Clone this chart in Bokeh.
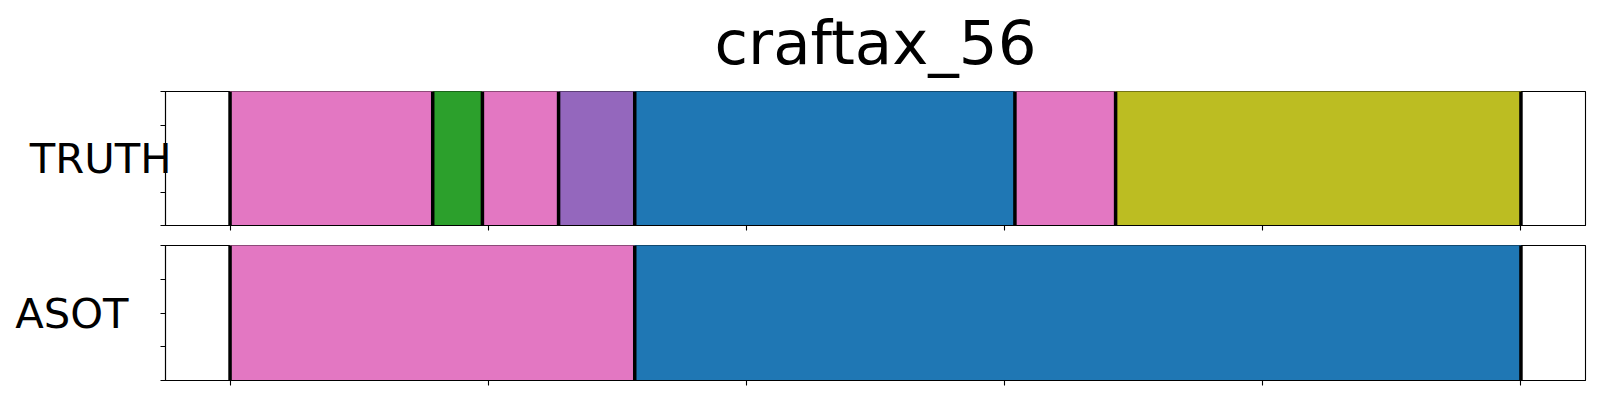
from bokeh.plotting import figure
from bokeh.models import Range1d, FixedTicker
from bokeh.layouts import column
from bokeh.embed import file_html
from bokeh.resources import INLINE

# ---- data ----
title_text = "craftax_56"
row_names = ["TRUTH", "ASOT"]

truth_starts = [0, 15.7, 19.55, 25.45, 31.35, 60.8, 68.6]
truth_ends = [15.7, 19.55, 25.45, 31.35, 60.8, 68.6, 100]
truth_colors = ["#e377c2", "#2ca02c", "#e377c2", "#9467bd", "#1f77b4", "#e377c2", "#bcbd22"]

asot_starts = [0, 31.35]
asot_ends = [31.35, 100]
asot_colors = ["#e377c2", "#1f77b4"]

x_ticks = [0, 20, 40, 60, 80, 100]
y_ticks = [0, 0.25, 0.5, 0.75, 1]

FONT = "DejaVu Sans"
FRAME_W = 1420
FRAME_H = 135
LEFT = 165
RIGHT = 8


def make_panel(starts, ends, colors, name, top, bottom, label_standoff, title=None):
    kw = {}
    if title is not None:
        kw["title"] = title
    p = figure(width=LEFT + FRAME_W + RIGHT, height=top + FRAME_H + bottom,
               output_backend="svg", toolbar_location=None,
               x_range=Range1d(-5, 105), y_range=Range1d(0, 1),
               min_border_left=LEFT, min_border_right=RIGHT,
               min_border_top=top, min_border_bottom=bottom, **kw)
    p.grid.visible = False
    p.outline_line_color = "black"
    p.outline_line_width = 1.1
    p.background_fill_color = "white"
    p.border_fill_color = "white"

    p.quad(left=starts, right=ends, bottom=0, top=1,
           fill_color=colors, line_color=colors, line_width=1)
    bounds = sorted(set(starts) | set(ends))
    p.segment(x0=bounds, y0=[0] * len(bounds), x1=bounds, y1=[1] * len(bounds),
              line_color="black", line_width=3.5)

    for ax in (p.xaxis[0], p.yaxis[0]):
        ax.major_tick_out = 5
        ax.major_tick_in = 0
        ax.minor_tick_line_color = None
        ax.major_tick_line_color = "black"
        ax.major_tick_line_width = 1.1
        ax.axis_line_color = "black"
        ax.axis_line_width = 1.1
        ax.major_label_text_font_size = "0px"
        ax.major_label_text_color = None
        ax.major_label_standoff = 0
    p.xaxis[0].ticker = FixedTicker(ticks=x_ticks)
    p.yaxis[0].ticker = FixedTicker(ticks=y_ticks)

    ya = p.yaxis[0]
    ya.axis_label = name
    ya.axis_label_orientation = "horizontal"
    ya.axis_label_text_font = FONT
    ya.axis_label_text_font_size = "41.7px"
    ya.axis_label_text_font_style = "normal"
    ya.axis_label_text_color = "black"
    ya.axis_label_standoff = label_standoff

    if title is not None:
        p.title.text_font = FONT
        p.title.text_font_size = "61px"
        p.title.text_font_style = "normal"
        p.title.text_color = "black"
        p.title.align = "center"
        p.title.standoff = 28
    return p


p1 = make_panel(truth_starts, truth_ends, truth_colors, row_names[0], 100, 10, -11, title=title_text)
p1.margin = (-10, 0, 0, 0)
p2 = make_panel(asot_starts, asot_ends, asot_colors, row_names[1], 10, 12, 32)

layout = column(p1, p2, spacing=0)

open("out.html", "w").write(file_html(layout, INLINE))
